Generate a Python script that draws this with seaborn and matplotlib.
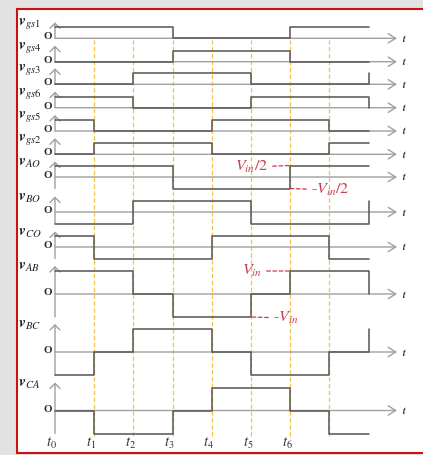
import matplotlib
matplotlib.use("Agg")
import matplotlib.pyplot as plt
from matplotlib.patches import Rectangle
import seaborn as sns
import numpy as np

# ---------------- data ----------------
times = [0, 1, 2, 3, 4, 5, 6, 7, 8]          # switching instants (t0 ... t8)
dash_times = [1, 2, 3, 4, 5, 6, 7]           # yellow guide lines
tick_labels = ["$t_0$", "$t_1$", "$t_2$", "$t_3$", "$t_4$", "$t_5$", "$t_6$"]

gate_names = ["gs1", "gs4", "gs3", "gs6", "gs5", "gs2"]
vgs1 = [1, 1, 1, 0, 0, 0, 1, 1, 1]
vgs4 = [0, 0, 0, 1, 1, 1, 0, 0, 0]
vgs3 = [0, 0, 1, 1, 1, 0, 0, 0, 1]
vgs6 = [1, 1, 0, 0, 0, 1, 1, 1, 0]
vgs5 = [1, 0, 0, 0, 1, 1, 1, 0, 0]
vgs2 = [0, 1, 1, 1, 0, 0, 0, 1, 1]

phase_names = ["AO", "BO", "CO"]
vAO = [1, 1, 1, -1, -1, -1, 1, 1, 1]
vBO = [-1, -1, 1, 1, 1, -1, -1, -1, 1]
vCO = [1, -1, -1, -1, 1, 1, 1, -1, -1]

line_names = ["AB", "BC", "CA"]
vAB = [1, 1, 0, -1, -1, 0, 1, 1, 0]
vBC = [-1, 0, 1, 1, 0, -1, -1, 0, 1]
vCA = [0, -1, -1, 0, 1, 1, 0, -1, -1]

# ---------------- layout (pixels) ----------------
W, H = 423, 455
X0, DX = 55.0, 39.2                     # pixel of t0, pixels per interval
def T(px):
    return (px - X0) / DX

gate_base = [38.3, 61.7, 84.3, 107.7, 131.0, 154.3]
gate_amp = 11.0
phase_base = [177.0, 212.0, 247.0]
phase_amp = 11.5
line_base = [294.0, 352.0, 410.5]
line_amp = 23.0

SIG = "#5a5a5a"
AXC = "#a0a0a0"
YEL = "#f6c445"
RED = "#cc3b50"

sns.set_theme(style="white")
plt.rcParams["mathtext.fontset"] = "stix"
plt.rcParams["font.family"] = ["Liberation Serif", "DejaVu Serif"]

fig = plt.figure(figsize=(W / 100, H / 100), dpi=100)
fig.patch.set_facecolor("#e2e2e2")
frame = Rectangle((17 / W, 2 / H), 2.0, (453 - 9) / H, transform=fig.transFigure,
                  facecolor="white", edgecolor="#cc1111", linewidth=1.5, zorder=-5)
fig.add_artist(frame)

ax = fig.add_axes([0, 0, 1, 1])
ax.set_xlim(T(0), T(W))
ax.set_ylim(H, 0)
ax.axis("off")

# yellow dashed guides
ax.vlines(dash_times, 436, 40, colors=YEL, linestyles=(0, (3.5, 2.0)), linewidth=0.9, zorder=1)

t_tip = T(397)

def draw_axes(base, bottom, top, label):
    # horizontal time axis with open arrow
    ax.annotate("", xy=(t_tip, base), xytext=(0, base),
                arrowprops=dict(arrowstyle="->,head_length=0.45,head_width=0.28",
                                color=AXC, lw=1.0, shrinkA=0, shrinkB=0), zorder=2)
    ax.text(T(402), base, "$\\mathbfit{t}$", color="#1e2f5e", fontsize=7,
            ha="left", va="center")
    # vertical axis
    ax.annotate("", xy=(0, top), xytext=(0, bottom),
                arrowprops=dict(arrowstyle="->,head_length=0.3,head_width=0.3",
                                color=AXC, lw=1.0, shrinkA=0, shrinkB=0), zorder=2)
    ax.text(T(18), top + 1.5, label, color="#222222", fontsize=11, ha="left", va="center")
    ax.text(T(51.5), base - 1.5, "O", color="#2a2a2a", fontsize=8, fontweight="bold",
            ha="right", va="center")

def draw_signal(vals, base, amp):
    ys = [base - amp * v for v in vals]
    sns.lineplot(x=times, y=ys, ax=ax, drawstyle="steps-post", color=SIG,
                 linewidth=1.15, estimator=None, sort=False, zorder=3)

gates = [vgs1, vgs4, vgs3, vgs6, vgs5, vgs2]
for name, vals, b in zip(gate_names, gates, gate_base):
    draw_axes(b, b, b - gate_amp - 5, "$\\mathbfit{v}_{%s}$" % name)
    draw_signal(vals, b, gate_amp)

phases = [vAO, vBO, vCO]
for name, vals, b in zip(phase_names, phases, phase_base):
    draw_axes(b, b + phase_amp, b - phase_amp - 4, "$\\mathbfit{v}_{%s}$" % name)
    draw_signal(vals, b, phase_amp)

lines_ = [vAB, vBC, vCA]
for name, vals, b in zip(line_names, lines_, line_base):
    draw_axes(b, b + line_amp, b - line_amp - 5, "$\\mathbfit{v}_{%s}$" % name)
    draw_signal(vals, b, line_amp)

# time labels
for t, lab in zip(times, tick_labels):
    ax.text(t - 0.08, 443, lab, fontsize=10.5, color="#333333", ha="center", va="center")

# red annotations
lead = dict(arrowstyle="-", linestyle=(0, (3, 2)), color=RED, lw=0.9, shrinkA=1, shrinkB=0)
ax.annotate("$V_{in}/2$", xy=(6, phase_base[0] - phase_amp), xytext=(T(268), 167),
            ha="right", va="center", color=RED, fontsize=11.5, arrowprops=lead)
ax.annotate("-$V_{in}/2$", xy=(6, phase_base[0] + phase_amp), xytext=(T(311), 190),
            ha="left", va="center", color=RED, fontsize=11.5, arrowprops=lead)
ax.annotate("$V_{in}$", xy=(6, line_base[0] - line_amp), xytext=(T(262), 271),
            ha="right", va="center", color=RED, fontsize=11.5, arrowprops=lead)
ax.annotate("-$V_{in}$", xy=(5, line_base[0] + line_amp), xytext=(T(273), 318),
            ha="left", va="center", color=RED, fontsize=11.5, arrowprops=lead)

fig.savefig("out.png", dpi=100, facecolor=fig.get_facecolor())
